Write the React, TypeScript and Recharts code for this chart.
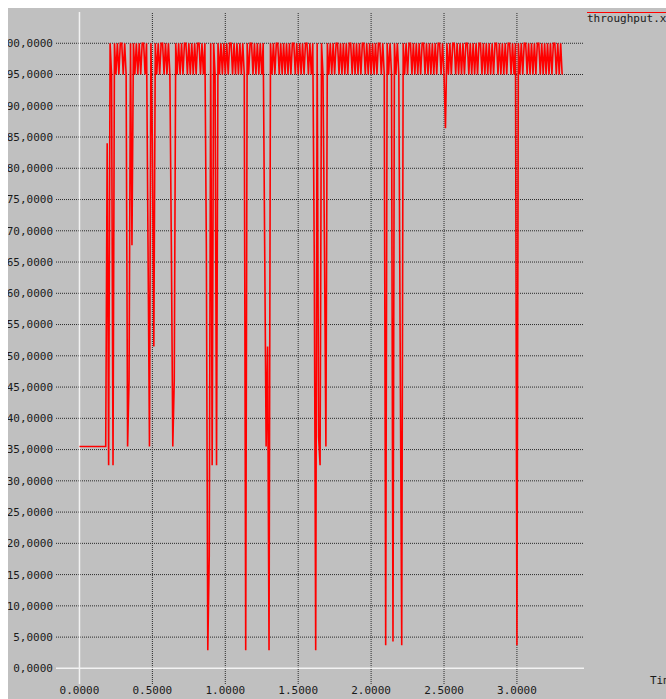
import { LineChart, Line, XAxis, YAxis, ReferenceLine } from 'recharts'

// throughput samples, one every 10 ms starting at t = 0
const SAMPLE_STEP = 0.01
const THROUGHPUT = [
  // 0.00
  35.5, 35.5, 35.5, 35.5, 35.5, 35.5, 35.5, 35.5, 35.5, 35.5,
  35.5, 35.5, 35.5, 35.5, 35.5, 35.5, 35.5, 35.5, 35.5, 84,
  // 0.20
  32.5, 100, 95, 32.5, 100, 95, 100, 95, 100, 100,
  95, 100, 95, 35.5, 46, 100, 67.7, 100, 95, 100,
  // 0.40
  95, 100, 95, 100, 100, 95, 100, 67.7, 35.5, 100,
  84, 51.5, 100, 95, 100, 95, 100, 100, 95, 100,
  // 0.60
  95, 100, 95, 67.7, 35.5, 46, 100, 95, 100, 95,
  100, 95, 100, 100, 95, 100, 95, 100, 95, 100,
  // 0.80
  95, 100, 100, 95, 100, 95, 100, 67.7, 2.9, 18,
  100, 32.5, 100, 95, 32.5, 100, 95, 100, 95, 100,
  // 1.00
  95, 100, 95, 100, 100, 95, 100, 95, 100, 95,
  100, 95, 100, 95, 2.9, 100, 95, 100, 100, 95,
  // 1.20
  100, 95, 100, 95, 100, 95, 100, 67.7, 35.5, 51.5,
  2.9, 100, 95, 100, 95, 100, 100, 95, 100, 95,
  // 1.40
  100, 95, 100, 95, 100, 95, 100, 100, 95, 100,
  95, 100, 95, 100, 95, 100, 100, 95, 100, 95,
  // 1.60
  100, 66.4, 2.9, 100, 37, 32.5, 100, 95, 67.7, 35.5,
  100, 95, 100, 95, 100, 95, 100, 100, 95, 100,
  // 1.80
  95, 100, 95, 100, 95, 100, 100, 95, 100, 95,
  100, 95, 100, 95, 100, 100, 95, 100, 95, 100,
  // 2.00
  95, 100, 95, 100, 95, 100, 100, 95, 100, 95,
  3.7, 100, 95, 100, 95, 4.3, 100, 95, 100, 95,
  // 2.20
  49, 3.7, 100, 95, 100, 95, 100, 100, 95, 100,
  95, 100, 95, 100, 95, 100, 100, 95, 100, 95,
  // 2.40
  100, 95, 100, 95, 100, 95, 100, 100, 95, 100,
  95, 86.4, 100, 95, 100, 95, 100, 100, 95, 100,
  // 2.60
  95, 100, 95, 100, 95, 100, 100, 95, 100, 95,
  100, 95, 100, 95, 100, 100, 95, 100, 95, 100,
  // 2.80
  95, 100, 95, 100, 95, 100, 100, 95, 100, 95,
  100, 95, 100, 95, 100, 100, 95, 100, 95, 100,
  // 3.00
  3.7, 100, 95, 100, 95, 100, 100, 95, 100, 95,
  100, 95, 100, 95, 100, 100, 95, 100, 95, 100,
  // 3.20
  95, 100, 95, 100, 95, 100, 100, 95, 100, 95,
  100, 95,
]

const X_TICKS = [0, 0.5, 1, 1.5, 2, 2.5, 3]
const Y_TICKS = [0, 5, 10, 15, 20, 25, 30, 35, 40, 45, 50, 55, 60, 65, 70, 75, 80, 85, 90, 95, 100]
const SERIES_NAME = 'throughput.xgr'
const X_LABEL = 'Time'

const FONT = '"DejaVu Sans Mono", monospace'
const tickStyle = { fontSize: 11, fill: '#1a1a1a', fontFamily: FONT }
const gridColor = '#2a2a2a'

const data = THROUGHPUT.map((v, i) => ({ t: +(i * SAMPLE_STEP).toFixed(2), v }))

const labelStyle = {
  position: 'absolute' as const,
  fontFamily: FONT,
  fontSize: 11,
  lineHeight: '12px',
  color: '#1a1a1a',
  whiteSpace: 'nowrap' as const,
}

export default function App() {
  return (
    <div
      style={{
        position: 'absolute',
        left: 8,
        top: 8,
        width: 658,
        height: 691,
        background: '#c0c0c0',
        overflow: 'hidden',
      }}
    >
      <LineChart width={658} height={691} data={data} margin={{ top: 4, right: 82, left: 0, bottom: 0 }}>
        <XAxis
          type='number'
          dataKey='t'
          domain={[-0.161, 3.46]}
          ticks={X_TICKS}
          allowDataOverflow
          axisLine={false}
          tickLine={false}
          tickSize={0}
          tickMargin={2}
          height={15}
          tick={tickStyle}
          tickFormatter={(v: number) => v.toFixed(4)}
        />
        <YAxis
          type='number'
          domain={[-2.5, 105]}
          ticks={Y_TICKS}
          allowDataOverflow
          axisLine={false}
          tickLine={false}
          tickSize={0}
          tickMargin={3}
          width={48}
          tick={tickStyle}
          tickFormatter={(v: number) => v.toFixed(4).replace('.', ',')}
        />
        {/* dotted grid, zero lines drawn solid white on top */}
        {Y_TICKS.filter((v) => v !== 0).map((v) => (
          <ReferenceLine key={'gy' + v} y={v} stroke={gridColor} strokeDasharray='1 1' />
        ))}
        {X_TICKS.filter((v) => v !== 0).map((v) => (
          <ReferenceLine key={'gx' + v} x={v} stroke={gridColor} strokeDasharray='1 1' />
        ))}
        <ReferenceLine x={0} stroke='#f2f2f2' strokeWidth={1.5} />
        <ReferenceLine y={0} stroke='#f2f2f2' strokeWidth={1.5} />
        <Line
          type='linear'
          dataKey='v'
          stroke='#ff0000'
          strokeWidth={1.6}
          dot={false}
          isAnimationActive={false}
        />
      </LineChart>

      {/* series key, top right */}
      <div style={{ position: 'absolute', left: 579, top: 4, width: 100, height: 1, background: '#ff0000' }} />
      <div style={{ ...labelStyle, left: 579, top: 5 }}>{SERIES_NAME}</div>

      <div style={{ ...labelStyle, left: 642, top: 667 }}>{X_LABEL}</div>
    </div>
  )
}
